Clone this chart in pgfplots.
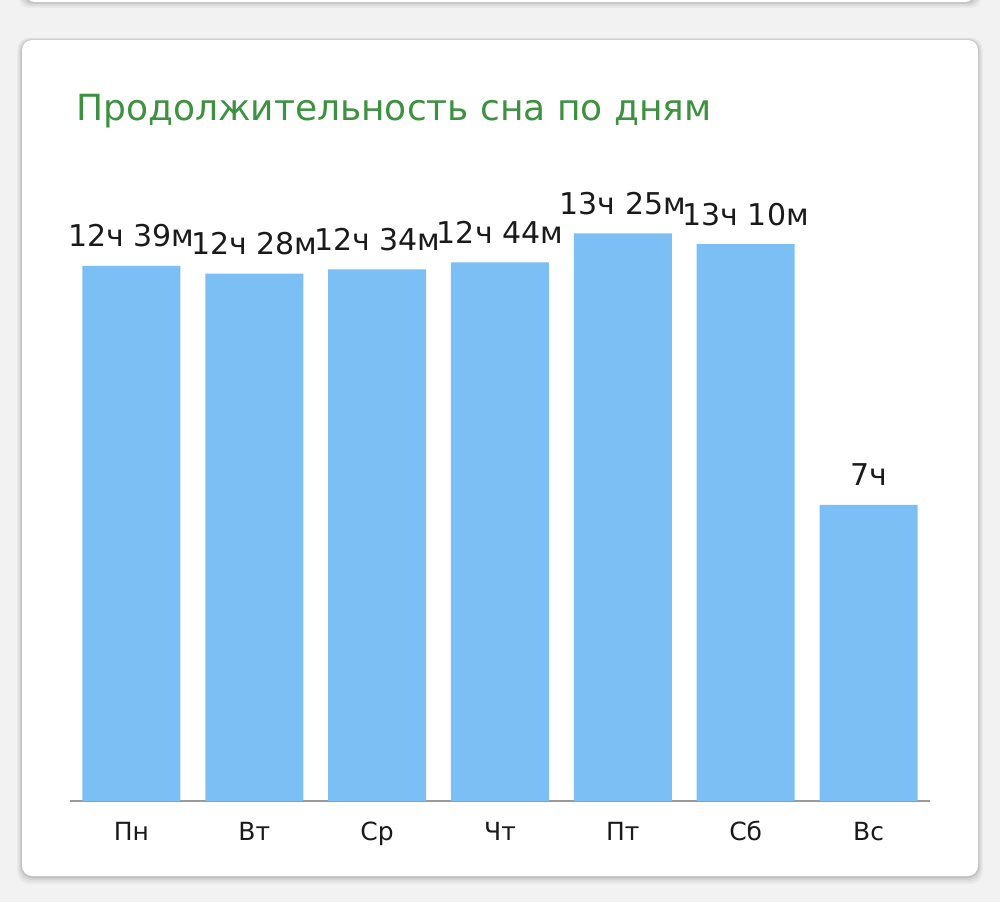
\documentclass[border=0pt]{standalone}
\usepackage{pgfplots}
\pgfplotsset{compat=1.18}
\usepackage{fontspec}
\setmainfont{DejaVu Sans}
\definecolor{bg}{HTML}{F2F2F2}
\definecolor{barblue}{HTML}{7CBFF5}
\definecolor{titlegreen}{HTML}{3D9140}
\definecolor{ink}{HTML}{1A1A1A}
\definecolor{baseline}{HTML}{9A9A9A}

\begin{document}
\begin{tikzpicture}
% page is 1000x902 px, 1px = 0.5pt
\clip (0,0) rectangle (500pt,451pt);
\fill[bg] (0,0) rectangle (500pt,451pt);
% card above (only its lower edge shows)
\foreach \d/\o in {3pt/0.04,2pt/0.06,1pt/0.08}
  \fill[black,opacity=\o,rounded corners=5pt] (12.5pt-\d,450pt-\d) rectangle (487.5pt+\d,470pt);
\fill[white,rounded corners=5pt] (12.5pt,450pt) rectangle (487.5pt,470pt);
% main card with soft shadow
\foreach \d/\o in {4pt/0.03,3pt/0.04,2pt/0.06,1pt/0.08}
  \fill[black,opacity=\o,rounded corners=6pt] (11pt-0.6*\d,13pt-\d) rectangle (489pt+0.6*\d,431pt+0.3*\d);
\fill[white,rounded corners=5pt] (11pt,13pt) rectangle (489pt,431pt);
% title
\node[anchor=base west,inner sep=0pt,text=titlegreen,font=\fontsize{18pt}{22pt}\selectfont]
  at (38pt,391pt) {Продолжительность сна по дням};

\begin{axis}[
    at={(35pt,50.5pt)}, anchor=south west,
    scale only axis,
    width=430pt, height=317.25pt,
    xmin=-0.5, xmax=6.5,
    ymin=0, ymax=900,
    clip=false,
    ybar, bar width=49pt, bar shift=0pt,
    axis x line=bottom,
    axis line style={draw=baseline, line width=0.7pt, -},
    hide y axis,
    xtick={0,...,6},
    xticklabels={Пн,Вт,Ср,Чт,Пт,Сб,Вс},
    major tick length=0pt,
    xticklabel style={font=\fontsize{12.5pt}{14pt}\selectfont, text=ink, anchor=base, yshift=-19.5pt, inner sep=0pt},
    nodes near coords,
    point meta=explicit symbolic,
    nodes near coords align={anchor=base},
    every node near coord/.append style={font=\fontsize{15pt}{18pt}\selectfont, text=ink, inner sep=0pt, yshift=9.5pt},
]
\addplot[fill=barblue, draw=none] coordinates {
    (0,759) [12ч 39м]
    (1,748) [12ч 28м]
    (2,754) [12ч 34м]
    (3,764) [12ч 44м]
    (4,805) [13ч 25м]
    (5,790) [13ч 10м]
    (6,420) [7ч]
};
\end{axis}
\end{tikzpicture}
\end{document}
